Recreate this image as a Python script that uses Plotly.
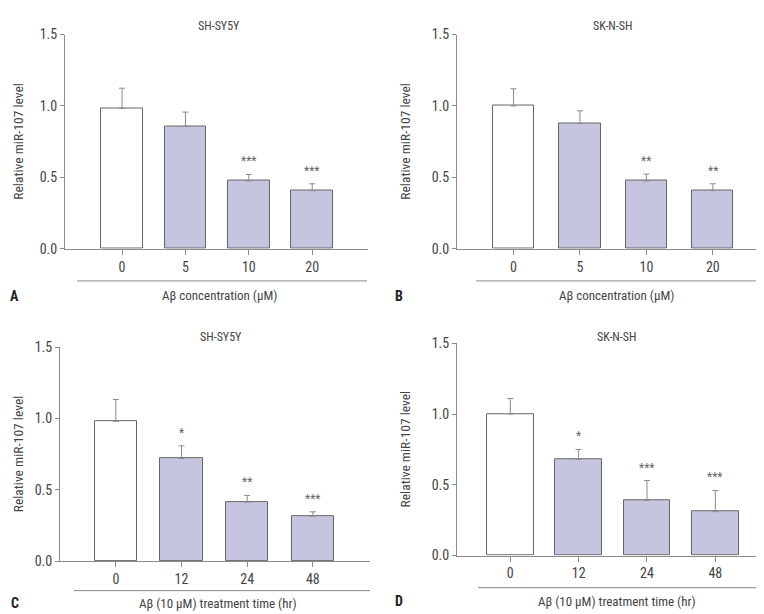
import plotly.graph_objects as go

W, H = 764, 614

# ---- data ----
conc_labels = ["0", "5", "10", "20"]
time_labels = ["0", "12", "24", "48"]

a_values = [0.984, 0.857, 0.475, 0.407]
a_errors = [0.140, 0.100, 0.045, 0.048]
a_stars = ["", "", "***", "***"]

b_values = [1.000, 0.877, 0.475, 0.407]
b_errors = [0.120, 0.089, 0.048, 0.048]
b_stars = ["", "", "**", "**"]

c_values = [0.981, 0.721, 0.415, 0.317]
c_errors = [0.152, 0.088, 0.047, 0.030]
c_stars = ["", "*", "**", "***"]

d_values = [1.000, 0.680, 0.390, 0.310]
d_errors = [0.110, 0.070, 0.140, 0.150]
d_stars = ["", "*", "***", "***"]

titles = ["SH-SY5Y", "SK-N-SH", "SH-SY5Y", "SK-N-SH"]
xlabels = ["Aβ concentration (μM)", "Aβ concentration (μM)",
           "Aβ (10 μM) treatment time (hr)", "Aβ (10 μM) treatment time (hr)"]
letters = ["A", "B", "C", "D"]
y_ticks = [0.0, 0.5, 1.0, 1.5]

FONT = "Roboto Condensed, Liberation Sans Narrow, DejaVu Sans Condensed, Roboto, sans-serif"
AX = "#8a8a8a"
TXT = "#444444"
FILL = "#c6c5e0"
EDGE = "#666666"

panels = [
    dict(vals=a_values, errs=a_errors, stars=a_stars, cats=conc_labels,
         x0=57, x1=360, yz=239, yt=19, xr=[-0.9, 3.88], bw=0.66,
         sep=(69, 359, 272), tx=211, ty=10, xl_y=287, lx=7, ly=287, ytx=10),
    dict(vals=b_values, errs=b_errors, stars=b_stars, cats=conc_labels,
         x0=449, x1=762, yz=239, yt=19, xr=[-0.85, 3.86], bw=0.62,
         sep=(468, 762, 272), tx=604, ty=10, xl_y=287, lx=391, ly=287, ytx=397),
    dict(vals=c_values, errs=c_errors, stars=c_stars, cats=time_labels,
         x0=52, x1=362, yz=560, yt=340, xr=[-0.85, 3.87], bw=0.64,
         sep=(66, 362, 590), tx=213, ty=330, xl_y=603, lx=7, ly=603, ytx=10),
    dict(vals=d_values, errs=d_errors, stars=d_stars, cats=time_labels,
         x0=449, x1=762, yz=554, yt=336, xr=[-0.78, 3.8], bw=0.68,
         sep=(470, 762, 587), tx=608, ty=330, xl_y=601, lx=391, ly=601, ytx=397),
]

fig = go.Figure()
annotations = []
shapes = []

for i, p in enumerate(panels):
    n = "" if i == 0 else str(i + 1)
    xa, ya = "x" + n, "y" + n
    xs = list(range(len(p["cats"])))
    fig.add_trace(go.Bar(
        x=xs, y=p["vals"], xaxis=xa, yaxis=ya, width=p["bw"],
        marker=dict(color=["white"] + [FILL] * (len(xs) - 1),
                    line=dict(color=EDGE, width=1)),
        error_y=dict(type="data", array=p["errs"], arrayminus=[0] * len(xs),
                     symmetric=False, color=AX, thickness=1, width=3),
        showlegend=False, hoverinfo="y",
    ))
    xd = [p["x0"] / W, p["x1"] / W]
    yd = [1 - p["yz"] / H, 1 - p["yt"] / H]
    axis_x = dict(domain=xd, range=p["xr"], tickvals=xs, ticktext=p["cats"],
                  showline=True, linecolor=AX, linewidth=1, ticks="outside",
                  ticklen=5, tickcolor=AX, showgrid=False, zeroline=False,
                  tickfont=dict(family=FONT, size=14, color=TXT), anchor=ya,
                  fixedrange=True)
    axis_y = dict(domain=yd, range=[0, 1.5], tickvals=y_ticks,
                  ticktext=["0.0", "0.5", "1.0", "1.5"],
                  showline=True, linecolor=AX, linewidth=1, ticks="outside",
                  ticklen=4, tickcolor=AX, showgrid=False, zeroline=False,
                  tickfont=dict(family=FONT, size=14, color=TXT), anchor=xa,
                  fixedrange=True)
    fig.update_layout(**{"xaxis" + n: axis_x, "yaxis" + n: axis_y})

    for xi, (v, e, s) in enumerate(zip(p["vals"], p["errs"], p["stars"])):
        if s:
            annotations.append(dict(x=xi, y=v + e, xref=xa, yref=ya, text=s,
                                    showarrow=False, yanchor="bottom", yshift=4,
                                    font=dict(family=FONT, size=12, color="#666666")))
    annotations.append(dict(x=p["tx"] / W, y=1 - p["ty"] / H, xref="paper", yref="paper",
                            text=titles[i], showarrow=False, xanchor="center", yanchor="middle",
                            font=dict(family=FONT, size=12, color=TXT)))
    annotations.append(dict(x=p["ytx"] / W, y=1 - ((p["yz"] + p["yt"]) / 2) / H,
                            xref="paper", yref="paper", text="Relative miR-107 level",
                            textangle=-90, showarrow=False, xanchor="center", yanchor="middle",
                            font=dict(family=FONT, size=13.5, color=TXT)))
    sx0, sx1, sy = p["sep"]
    annotations.append(dict(x=((p["x0"] + p["x1"]) / 2 + 3) / W, y=1 - p["xl_y"] / H,
                            xref="paper", yref="paper", text=xlabels[i], showarrow=False,
                            xanchor="center", yanchor="middle",
                            font=dict(family=FONT, size=13, color=TXT)))
    annotations.append(dict(x=p["lx"] / W, y=1 - p["ly"] / H, xref="paper", yref="paper",
                            text="<b>" + letters[i] + "</b>", showarrow=False,
                            xanchor="center", yanchor="middle",
                            font=dict(family=FONT, size=14, color="#222222")))
    shapes.append(dict(type="line", xref="paper", yref="paper",
                       x0=sx0 / W, x1=sx1 / W, y0=1 - sy / H, y1=1 - sy / H,
                       line=dict(color=AX, width=1)))

fig.update_layout(width=W, height=H, margin=dict(l=0, r=0, t=0, b=0),
                  paper_bgcolor="white", plot_bgcolor="white",
                  annotations=annotations, shapes=shapes, bargap=0)

fig.write_html("out.html")
